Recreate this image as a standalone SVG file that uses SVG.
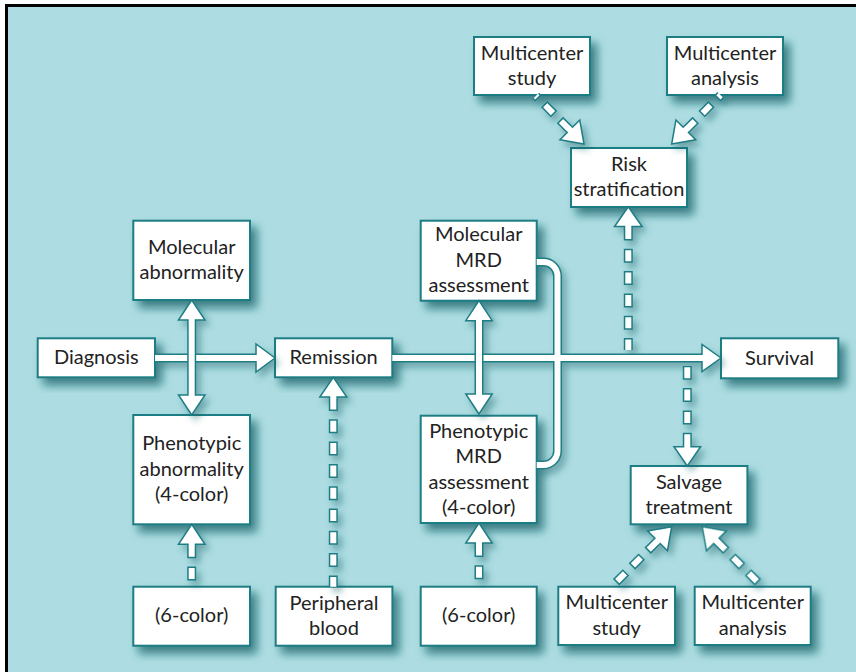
<svg xmlns="http://www.w3.org/2000/svg" width="856" height="672" viewBox="0 0 856 672">
<defs>
<filter id="sh" x="-20%" y="-20%" width="150%" height="160%"><feDropShadow dx="6" dy="7" stdDeviation="5" flood-color="#135f65" flood-opacity="0.75"/></filter>
<filter id="csh" x="-20%" y="-20%" width="150%" height="150%"><feDropShadow dx="4" dy="5" stdDeviation="3.5" flood-color="#135f65" flood-opacity="0.45"/></filter>
</defs>
<style>
.box{fill:#fff;stroke:#1f7d84;stroke-width:2;filter:url(#sh)}
.t{font-family:Lato,"Noto Sans",sans-serif;font-size:20px;fill:#222;text-anchor:middle}
.so{stroke:#1f7d84;stroke-width:9;fill:none}
.si{stroke:#fff;stroke-width:6;fill:none}
.hd{fill:#fff;stroke:#1f7d84;stroke-width:1.5}
.dso{stroke-dasharray:14 8.3}
.dsi{stroke-dasharray:0 1.5 11 9.8}
</style>
<rect x="0" y="0" width="856" height="672" fill="#fff"/>
<rect x="6.5" y="5.5" width="860" height="680" fill="#addde2" stroke="#000" stroke-width="3"/>

<g id="nodes">
<g id="n-study-top"><rect class="box" x="474" y="37" width="116" height="58"/><text class="t" x="532" y="59.5">Multicenter</text><text class="t" x="532" y="84.5">study</text></g>
<g id="n-analysis-top"><rect class="box" x="667" y="37" width="116" height="58"/><text class="t" x="725" y="59.5">Multicenter</text><text class="t" x="725" y="84.5">analysis</text></g>
<g id="n-risk"><rect class="box" x="571" y="148" width="116" height="59"/><text class="t" x="629" y="170.5">Risk</text><text class="t" x="629" y="196">stratification</text></g>
<g id="n-mol-abn"><rect class="box" x="133.3" y="220.7" width="116.7" height="79.3"/><text class="t" x="191.7" y="254">Molecular</text><text class="t" x="191.7" y="279">abnormality</text></g>
<g id="n-mol-mrd"><rect class="box" x="420.7" y="220.7" width="116" height="80"/><text class="t" x="478.7" y="241">Molecular</text><text class="t" x="478.7" y="266.5">MRD</text><text class="t" x="478.7" y="292">assessment</text></g>
<g id="n-diagnosis"><rect class="box" x="37.7" y="338.3" width="117.3" height="39"/><text class="t" x="96.3" y="364">Diagnosis</text></g>
<g id="n-remission"><rect class="box" x="275" y="338.3" width="117.3" height="39"/><text class="t" x="333.6" y="364">Remission</text></g>
<g id="n-survival"><rect class="box" x="721" y="338.3" width="117.3" height="40"/><text class="t" x="779.6" y="364.5">Survival</text></g>
<g id="n-phen-abn"><rect class="box" x="133.3" y="415" width="116.7" height="109.3"/><text class="t" x="191.7" y="450.2">Phenotypic</text><text class="t" x="191.7" y="475.7">abnormality</text><text class="t" x="191.7" y="501.2">(4-color)</text></g>
<g id="n-phen-mrd"><rect class="box" x="420.7" y="415.7" width="116" height="107.3"/><text class="t" x="478.7" y="437.9">Phenotypic</text><text class="t" x="478.7" y="463.4">MRD</text><text class="t" x="478.7" y="488.9">assessment</text><text class="t" x="478.7" y="514.4">(4-color)</text></g>
<g id="n-salvage"><rect class="box" x="630.7" y="466" width="116.7" height="58.3"/><text class="t" x="689" y="488.5">Salvage</text><text class="t" x="689" y="514">treatment</text></g>
<g id="n-6color-left"><rect class="box" x="133.3" y="586.7" width="116.7" height="59"/><text class="t" x="191.7" y="622">(6-color)</text></g>
<g id="n-peripheral"><rect class="box" x="275.7" y="586.7" width="116.7" height="59"/><text class="t" x="334" y="609.5">Peripheral</text><text class="t" x="334" y="635">blood</text></g>
<g id="n-6color-mid"><rect class="box" x="420.7" y="586.7" width="116" height="59"/><text class="t" x="478.7" y="622">(6-color)</text></g>
<g id="n-study-bot"><rect class="box" x="558.3" y="586.7" width="116.7" height="58.3"/><text class="t" x="616.7" y="609">Multicenter</text><text class="t" x="616.7" y="634.5">study</text></g>
<g id="n-analysis-bot"><rect class="box" x="694.7" y="586.7" width="116" height="58.3"/><text class="t" x="752.7" y="609">Multicenter</text><text class="t" x="752.7" y="634.5">analysis</text></g>
</g>

<g id="connectors" filter="url(#csh)">
<g id="c-main">
<line class="so" x1="155" y1="358" x2="256.5" y2="358"/>
<line class="so" x1="392.3" y1="358" x2="703" y2="358"/>
<path class="so" d="M536.7,262 H543.5 A14,14 0 0 1 557.5,276 V451 A14,14 0 0 1 543.5,465 H536.7"/>
<polygon class="hd" points="275,358 256,344 256,372"/>
<polygon class="hd" points="721,358 702,344.5 702,371.5"/>
<line class="si" x1="155" y1="358" x2="257.5" y2="358"/>
<line class="si" x1="392.3" y1="358" x2="703.5" y2="358"/>
<path class="si" d="M536.7,262 H543.5 A14,14 0 0 1 557.5,276 V451 A14,14 0 0 1 543.5,465 H536.7"/>
</g>
<g id="c-abn">
<line class="so" x1="191.7" y1="319" x2="191.7" y2="396"/>
<polygon class="hd" points="191.7,300 178.5,320 205,320"/>
<polygon class="hd" points="191.7,415 178.5,395 205,395"/>
<line class="si" x1="191.7" y1="318.5" x2="191.7" y2="396.5"/>
</g>
<g id="c-mrd">
<line class="so" x1="479" y1="320" x2="479" y2="395"/>
<polygon class="hd" points="479,300.7 465.8,320.7 492.2,320.7"/>
<polygon class="hd" points="479,414 465.8,394 492.2,394"/>
<line class="si" x1="479" y1="319.2" x2="479" y2="395.5"/>
</g>
<g id="c-peripheral">
<line class="so dso" x1="333.3" y1="397" x2="333.3" y2="586.7"/>
<polygon class="hd" points="333.3,377.3 319.8,397 346.8,397"/>
<line class="si dsi" x1="333.3" y1="397" x2="333.3" y2="586.7"/>
<line class="si" x1="333.3" y1="395.5" x2="333.3" y2="399"/>
</g>
<g id="c-6left">
<line class="so dso" x1="191.7" y1="544.3" x2="191.7" y2="586.7"/>
<polygon class="hd" points="191.7,524.3 178.5,544.3 205,544.3"/>
<line class="si dsi" x1="191.7" y1="544.3" x2="191.7" y2="586.7"/>
<line class="si" x1="191.7" y1="542.8" x2="191.7" y2="546.3"/>
</g>
<g id="c-6mid">
<line class="so dso" x1="479" y1="543" x2="479" y2="586.7"/>
<polygon class="hd" points="479,523 465.8,543 492.2,543"/>
<line class="si dsi" x1="479" y1="543" x2="479" y2="586.7"/>
<line class="si" x1="479" y1="541.5" x2="479" y2="545"/>
</g>
<g id="c-risk">
<line class="so dso" x1="628.3" y1="226.5" x2="628.3" y2="350"/>
<polygon class="hd" points="628.3,206.7 614.5,226.5 642.1,226.5"/>
<line class="si dsi" x1="628.3" y1="226.5" x2="628.3" y2="350"/>
<line class="si" x1="628.3" y1="225" x2="628.3" y2="228.5"/>
</g>
<g id="c-salvage">
<line class="so dso" x1="687.3" y1="446.7" x2="687.3" y2="366"/>
<polygon class="hd" points="687.3,466 674,446.7 700.6,446.7"/>
<line class="si dsi" x1="687.3" y1="446.7" x2="687.3" y2="366"/>
<line class="si" x1="687.3" y1="448.2" x2="687.3" y2="444.7"/>
</g>
<g id="c-d1" transform="translate(584,144) rotate(45)">
<line class="so dso" x1="-20" y1="0" x2="-68" y2="0"/>
<polygon class="hd" points="0,0 -20,-14 -20,14"/>
<line class="si dsi" x1="-20" y1="0" x2="-68" y2="0"/>
<line class="si" x1="-18.5" y1="0" x2="-22" y2="0"/>
</g>
<g id="c-d2" transform="translate(671.7,144) rotate(135)">
<line class="so dso" x1="-20" y1="0" x2="-69" y2="0"/>
<polygon class="hd" points="0,0 -20,-14 -20,14"/>
<line class="si dsi" x1="-20" y1="0" x2="-69" y2="0"/>
<line class="si" x1="-18.5" y1="0" x2="-22" y2="0"/>
</g>
<g id="c-d3" transform="translate(671.7,526.7) rotate(-45)">
<line class="so dso" x1="-20" y1="0" x2="-85" y2="0"/>
<polygon class="hd" points="0,0 -20,-14 -20,14"/>
<line class="si dsi" x1="-20" y1="0" x2="-85" y2="0"/>
<line class="si" x1="-18.5" y1="0" x2="-22" y2="0"/>
</g>
<g id="c-d4" transform="translate(702.3,526.7) rotate(-135)">
<line class="so dso" x1="-20" y1="0" x2="-85" y2="0"/>
<polygon class="hd" points="0,0 -20,-14 -20,14"/>
<line class="si dsi" x1="-20" y1="0" x2="-85" y2="0"/>
<line class="si" x1="-18.5" y1="0" x2="-22" y2="0"/>
</g>
</g>
</svg>
